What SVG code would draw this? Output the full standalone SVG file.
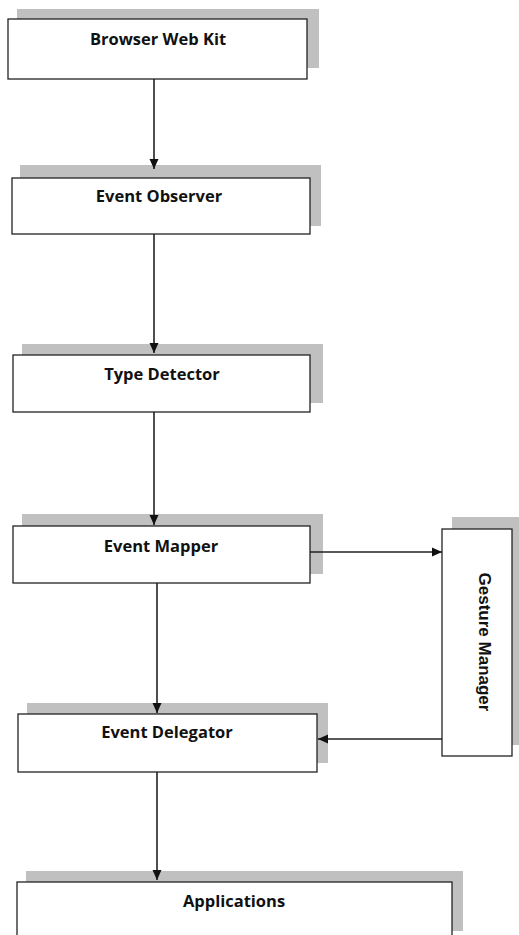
<svg xmlns="http://www.w3.org/2000/svg" width="519" height="935" viewBox="0 0 519 935">
<style>
.sh{fill:#c0c0c0}
.bx{fill:#fff;stroke:#222;stroke-width:1.3}
.t{font-family:"Open Sans","Liberation Sans",sans-serif;font-weight:bold;font-size:16.5px;fill:#111;text-anchor:middle}
.g{font-family:"Liberation Sans",Arial,sans-serif;font-weight:bold;font-size:17px;fill:#111;text-anchor:middle}
.c{stroke:#222;stroke-width:1.6;fill:none;marker-end:url(#ah)}
</style>
<defs>
<marker id="ah" viewBox="0 0 10 10" refX="10" refY="5" markerWidth="10" markerHeight="10" markerUnits="userSpaceOnUse" orient="auto">
<path d="M0,0.5 L10,5 L0,9.5 Z" fill="#111"/>
</marker>
</defs>
<rect width="519" height="935" fill="#fff"/>
<g id="browser-web-kit">
<rect class="sh" x="17" y="9" width="302" height="59"/>
<rect class="bx" x="8" y="19" width="299" height="60"/>
<text class="t" x="158" y="45">Browser Web Kit</text>
</g>
<g id="event-observer">
<rect class="sh" x="20" y="165" width="301" height="61"/>
<rect class="bx" x="12" y="178" width="298" height="56"/>
<text class="t" x="159" y="202">Event Observer</text>
</g>
<g id="type-detector">
<rect class="sh" x="22" y="344" width="301" height="59"/>
<rect class="bx" x="13" y="355" width="297" height="57"/>
<text class="t" x="162" y="380">Type Detector</text>
</g>
<g id="event-mapper">
<rect class="sh" x="22" y="514" width="301" height="60"/>
<rect class="bx" x="13" y="526" width="297" height="57"/>
<text class="t" x="161" y="552">Event Mapper</text>
</g>
<g id="gesture-manager">
<rect class="sh" x="452" y="517" width="67" height="228"/>
<rect class="bx" x="442" y="529" width="70" height="227"/>
<text class="g" transform="translate(479,642) rotate(90)" x="0" y="0">Gesture Manager</text>
</g>
<g id="event-delegator">
<rect class="sh" x="27" y="703" width="301" height="60"/>
<rect class="bx" x="18" y="714" width="299" height="58"/>
<text class="t" x="167" y="738">Event Delegator</text>
</g>
<g id="applications">
<rect class="sh" x="26" y="871" width="437" height="60"/>
<rect class="bx" x="17" y="882" width="435" height="60"/>
<text class="t" x="234" y="907">Applications</text>
</g>
<g id="connectors">
<path class="c" d="M154,79 V169"/>
<path class="c" d="M154,234 V353"/>
<path class="c" d="M154,412 V525"/>
<path class="c" d="M157,583 V713"/>
<path class="c" d="M157,772 V880"/>
<path class="c" d="M310,552 H442"/>
<path class="c" d="M442,739 H318"/>
</g>
</svg>
